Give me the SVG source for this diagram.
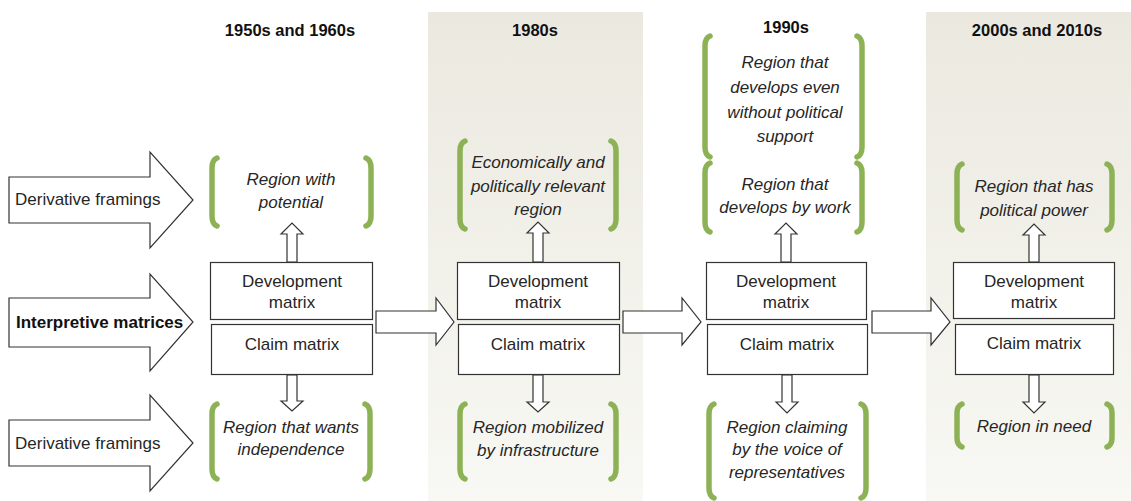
<svg xmlns="http://www.w3.org/2000/svg" width="1131" height="501" viewBox="0 0 1131 501">
  <defs>
    <linearGradient id="panelFill" x1="0" y1="0" x2="0" y2="1">
      <stop offset="0" stop-color="#ebe9df"/>
      <stop offset="1" stop-color="#f8f8f4"/>
    </linearGradient>
    <style>
      text { font-family: "Liberation Sans", Arial, sans-serif; fill: #262626; }
      .hdr { font-size: 16.5px; font-weight: bold; fill: #111; text-anchor: middle; }
      .lbl { font-size: 17px; text-anchor: middle; }
      .it { font-size: 17px; font-style: italic; text-anchor: middle; }
      .side { font-size: 17px; }
      .box, .arrow { fill: #fff; stroke: #333; stroke-width: 1.2; }
      .brk { fill: none; stroke: #8db255; stroke-width: 5.5; stroke-linecap: round; stroke-linejoin: round; }
    </style>
  </defs>

  <!-- shaded period panels -->
  <g id="panels">
    <rect x="428" y="12" width="215" height="489" fill="url(#panelFill)"/>
    <rect x="926" y="12" width="205" height="489" fill="url(#panelFill)"/>
  </g>

  <!-- period headings -->
  <g id="headings">
    <text class="hdr" x="290" y="36">1950s and 1960s</text>
    <text class="hdr" x="535" y="36">1980s</text>
    <text class="hdr" x="786" y="33">1990s</text>
    <text class="hdr" x="1037" y="36">2000s and 2010s</text>
  </g>

  <!-- row labels as block arrows -->
  <g id="row-derivative-top">
    <polygon class="arrow" points="9,177 150,177 150,152 193,200 150,248 150,223 9,223"/>
    <text class="side" x="15" y="205">Derivative framings</text>
  </g>
  <g id="row-interpretive">
    <polygon class="arrow" points="9,298 150,298 150,274 193,322 150,371 150,347 9,347"/>
    <text class="side" x="16" y="328" font-weight="bold" style="fill:#111">Interpretive matrices</text>
  </g>
  <g id="row-derivative-bottom">
    <polygon class="arrow" points="9,420 150,420 150,395 193,443 150,491 150,466 9,466"/>
    <text class="side" x="15" y="449">Derivative framings</text>
  </g>

  <!-- connectors: block arrows between matrices and framings -->
  <g id="connectors">
    <!-- column 1 -->
    <polygon class="arrow" points="287,262 287,234 281,234 292,223 303,234 297,234 297,262"/>
    <polygon class="arrow" points="287,375 287,401 281,401 292,411 303,401 297,401 297,375"/>
    <!-- column 2 -->
    <polygon class="arrow" points="533,262 533,233 527,233 538,222 549,233 543,233 543,262"/>
    <polygon class="arrow" points="533,375 533,402 527,402 538,412 549,402 543,402 543,375"/>
    <!-- column 3 -->
    <polygon class="arrow" points="781,262 781,234 775,234 786,223 797,234 791,234 791,262"/>
    <polygon class="arrow" points="782,375 782,402 776,402 787,413 798,402 792,402 792,375"/>
    <!-- column 4 -->
    <polygon class="arrow" points="1029,262 1029,235 1023,235 1034,224 1045,235 1039,235 1039,262"/>
    <polygon class="arrow" points="1029,375 1029,402 1023,402 1034,413 1045,402 1039,402 1039,375"/>
    <!-- between periods -->
    <polygon class="arrow" points="376,311 436,311 436,298 454,322 436,345 436,333 376,333"/>
    <polygon class="arrow" points="623,311 682,311 682,298 701,322 682,345 682,333 623,333"/>
    <polygon class="arrow" points="872,311 931,311 931,298 950,322 931,345 931,333 872,333"/>
  </g>

  <!-- 1950s and 1960s -->
  <g id="p1-dev">
    <rect class="box" x="210.5" y="262.5" width="162" height="57"/>
    <text class="lbl" x="292" y="287">Development</text>
    <text class="lbl" x="292" y="308">matrix</text>
  </g>
  <g id="p1-claim">
    <rect class="box" x="211.5" y="324.5" width="161" height="50"/>
    <text class="lbl" x="292" y="350">Claim matrix</text>
  </g>
  <g id="p1-top">
    <path class="brk" d="M217,158 Q212,160 212,168 L212,216 Q212,224 217,226"/>
    <path class="brk" d="M366,158 Q371,160 371,168 L371,216 Q371,224 366,226"/>
    <text class="it" x="291" y="185">Region with</text>
    <text class="it" x="291" y="208">potential</text>
  </g>
  <g id="p1-bottom">
    <path class="brk" d="M217,404 Q212,406 212,414 L212,469 Q212,477 217,479"/>
    <path class="brk" d="M365,404 Q370,406 370,414 L370,469 Q370,477 365,479"/>
    <text class="it" x="291" y="433">Region that wants</text>
    <text class="it" x="291" y="455">independence</text>
  </g>

  <!-- 1980s -->
  <g id="p2-dev">
    <rect class="box" x="457.5" y="262.5" width="162" height="57"/>
    <text class="lbl" x="538" y="287">Development</text>
    <text class="lbl" x="538" y="308">matrix</text>
  </g>
  <g id="p2-claim">
    <rect class="box" x="458.5" y="324.5" width="161" height="50"/>
    <text class="lbl" x="538" y="350">Claim matrix</text>
  </g>
  <g id="p2-top">
    <path class="brk" d="M465,141 Q460,143 460,151 L460,219 Q460,227 465,229"/>
    <path class="brk" d="M611,141 Q616,143 616,151 L616,219 Q616,227 611,229"/>
    <text class="it" x="538" y="168">Economically and</text>
    <text class="it" x="538" y="192">politically relevant</text>
    <text class="it" x="538" y="215">region</text>
  </g>
  <g id="p2-bottom">
    <path class="brk" d="M465,404 Q460,406 460,414 L460,469 Q460,477 465,479"/>
    <path class="brk" d="M611,404 Q616,406 616,414 L616,469 Q616,477 611,479"/>
    <text class="it" x="538" y="433">Region mobilized</text>
    <text class="it" x="538" y="456">by infrastructure</text>
  </g>

  <!-- 1990s -->
  <g id="p3-dev">
    <rect class="box" x="706.5" y="262.5" width="160" height="57"/>
    <text class="lbl" x="786" y="287">Development</text>
    <text class="lbl" x="786" y="308">matrix</text>
  </g>
  <g id="p3-claim">
    <rect class="box" x="707.5" y="324.5" width="160" height="50"/>
    <text class="lbl" x="787" y="350">Claim matrix</text>
  </g>
  <g id="p3-top">
    <path class="brk" d="M710,36 Q705,38 705,46 L705,147 Q705,155 710,157"/>
    <path class="brk" d="M857,36 Q862,38 862,46 L862,147 Q862,155 857,157"/>
    <text class="it" x="785" y="68">Region that</text>
    <text class="it" x="785" y="93">develops even</text>
    <text class="it" x="785" y="118">without political</text>
    <text class="it" x="785" y="142">support</text>
  </g>
  <g id="p3-mid">
    <path class="brk" d="M710,163 Q705,165 705,173 L705,222 Q705,230 710,232"/>
    <path class="brk" d="M857,163 Q862,165 862,173 L862,222 Q862,230 857,232"/>
    <text class="it" x="785" y="190">Region that</text>
    <text class="it" x="785" y="213">develops by work</text>
  </g>
  <g id="p3-bottom">
    <path class="brk" d="M714,404 Q709,406 709,414 L709,488 Q709,496 714,498"/>
    <path class="brk" d="M861,404 Q866,406 866,414 L866,488 Q866,496 861,498"/>
    <text class="it" x="787" y="433">Region claiming</text>
    <text class="it" x="787" y="455">by the voice of</text>
    <text class="it" x="787" y="478">representatives</text>
  </g>

  <!-- 2000s and 2010s -->
  <g id="p4-dev">
    <rect class="box" x="953.5" y="262.5" width="161" height="56"/>
    <text class="lbl" x="1034" y="287">Development</text>
    <text class="lbl" x="1034" y="308">matrix</text>
  </g>
  <g id="p4-claim">
    <rect class="box" x="955.5" y="324.5" width="158" height="50"/>
    <text class="lbl" x="1034" y="349">Claim matrix</text>
  </g>
  <g id="p4-top">
    <path class="brk" d="M962,164 Q957,166 957,174 L957,220 Q957,228 962,230"/>
    <path class="brk" d="M1107,164 Q1112,166 1112,174 L1112,220 Q1112,228 1107,230"/>
    <text class="it" x="1034" y="192">Region that has</text>
    <text class="it" x="1034" y="216">political power</text>
  </g>
  <g id="p4-bottom">
    <path class="brk" d="M962,404 Q957,406 957,413 L957,438 Q957,445 962,447"/>
    <path class="brk" d="M1107,404 Q1112,406 1112,413 L1112,438 Q1112,445 1107,447"/>
    <text class="it" x="1034" y="432">Region in need</text>
  </g>
</svg>
